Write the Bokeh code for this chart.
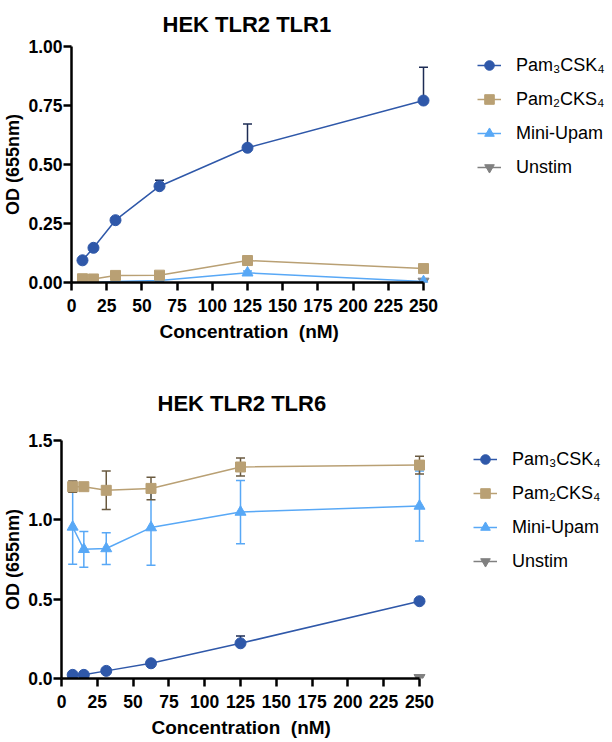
from bokeh.plotting import figure
from bokeh.models import (ColumnDataSource, Whisker, TeeHead, Legend, LegendItem,
                          FixedTicker, NumeralTickFormatter, Range1d, Title)
from bokeh.embed import file_html
from bokeh.resources import INLINE

# ---------------- data ----------------
conc = [7.8, 15.6, 31.25, 62.5, 125, 250]
unstim_conc = [250]
x_ticks = [0, 25, 50, 75, 100, 125, 150, 175, 200, 225, 250]
x_label = "Concentration\u00a0 (nM)"
y_label = "OD (655nm)"

series_names = ["Pam\u2083CSK\u2084", "Pam\u2082CKS\u2084", "Mini-Upam", "Unstim"]

# HEK TLR2 TLR1
tlr1_pam3 = [0.094, 0.147, 0.264, 0.408, 0.571, 0.771]
tlr1_pam3_err = [0.008, 0.008, 0.010, 0.025, 0.101, 0.141]
tlr1_pam2 = [0.016, 0.015, 0.030, 0.031, 0.093, 0.059]
tlr1_pam2_err = [0.004, 0.004, 0.005, 0.005, 0.018, 0.006]
tlr1_mini = [0.000, 0.000, 0.004, 0.008, 0.041, 0.004]
tlr1_mini_err = [0.002, 0.002, 0.002, 0.003, 0.008, 0.002]
tlr1_unstim = [0.005]
tlr1_y_ticks = [0, 0.25, 0.5, 0.75, 1.0]

# HEK TLR2 TLR6
tlr6_pam3 = [0.023, 0.023, 0.048, 0.096, 0.222, 0.487]
tlr6_pam3_err = [0.004, 0.004, 0.005, 0.006, 0.046, 0.006]
tlr6_pam2 = [1.209, 1.209, 1.186, 1.198, 1.333, 1.345]
tlr6_pam2_err = [0.035, 0.010, 0.121, 0.071, 0.056, 0.056]
tlr6_mini = [0.955, 0.814, 0.819, 0.951, 1.049, 1.087]
tlr6_mini_err = [0.235, 0.113, 0.100, 0.238, 0.199, 0.220]
tlr6_unstim = [0.005]
tlr6_y_ticks = [0, 0.5, 1.0, 1.5]

# ---------------- style ----------------
FONT = "Liberation Sans"
C_PAM3 = "#2f58a9"
C_PAM3_ERR = "#1d2c55"
C_PAM2 = "#b9a074"
C_PAM2_ERR = "#6a5a40"
C_MINI = "#58a8f6"
C_UNSTIM = "#808080"
FIG_W = 604


def whisker(p, x, y, err, color, one_sided=False):
    lower = list(y) if one_sided else [v - e for v, e in zip(y, err)]
    upper = [v + e for v, e in zip(y, err)]
    src = ColumnDataSource(dict(x=x, lower=lower, upper=upper))
    w = Whisker(source=src, base="x", lower="lower", upper="upper",
                line_color=color, line_width=1.5, level="underlay",
                upper_head=TeeHead(size=9, line_color=color, line_width=1.5),
                lower_head=None if one_sided else TeeHead(size=9, line_color=color, line_width=1.5))
    p.add_layout(w)


def panel(title, ymax, yticks, yfmt, pam3, pam3_err, pam2, pam2_err, mini, mini_err, unstim,
          left, top, bottom, px250, fh, leg_x, title_standoff, title_offset, xlab_offset,
          xlab_standoff):
    fw = FIG_W - left
    x_end = 250.0 * fw / px250
    p = figure(frame_width=fw, frame_height=fh, x_range=Range1d(0, x_end), y_range=Range1d(0, ymax),
               output_backend="svg", toolbar_location=None,
               min_border_left=left, min_border_top=top,
               min_border_right=0, min_border_bottom=bottom)
    p.title = Title(text=title, text_font=FONT, text_font_size="22px", text_font_style="bold",
                    align="left", offset=title_offset, text_color="black",
                    standoff=title_standoff)
    p.outline_line_color = None
    p.grid.visible = False
    p.background_fill_color = "white"

    whisker(p, conc, mini, mini_err, C_MINI)
    whisker(p, conc, pam2, pam2_err, C_PAM2_ERR)
    whisker(p, conc, pam3, pam3_err, C_PAM3_ERR, one_sided=True)

    lu = p.line(unstim_conc, unstim, line_color=C_UNSTIM, line_width=1.5)
    su = p.scatter(unstim_conc, unstim, marker="inverted_triangle", size=11,
                   fill_color=C_UNSTIM, line_color=C_UNSTIM)
    lm = p.line(conc, mini, line_color=C_MINI, line_width=1.5)
    sm = p.scatter(conc, mini, marker="triangle", size=11, fill_color=C_MINI, line_color=C_MINI)
    l2 = p.line(conc, pam2, line_color=C_PAM2, line_width=1.5)
    s2 = p.scatter(conc, pam2, marker="square", size=10, fill_color=C_PAM2, line_color=C_PAM2)
    l3 = p.line(conc, pam3, line_color=C_PAM3, line_width=1.5)
    s3 = p.scatter(conc, pam3, marker="circle", size=11, fill_color=C_PAM3, line_color=C_PAM3)

    items = [LegendItem(label=series_names[0], renderers=[l3, s3]),
             LegendItem(label=series_names[1], renderers=[l2, s2]),
             LegendItem(label=series_names[2], renderers=[lm, sm]),
             LegendItem(label=series_names[3], renderers=[lu, su])]
    leg_h = 4 * 24 + 3 * 10
    leg = Legend(items=items, location=(leg_x, fh - 7 - leg_h), orientation="vertical",
                 glyph_width=24, glyph_height=24, label_height=24, spacing=10,
                 label_standoff=15, padding=0, margin=0,
                 border_line_color=None, background_fill_alpha=0,
                 label_text_font=FONT, label_text_font_size="18px", label_text_color="black")
    p.add_layout(leg)

    for ax in (p.xaxis[0], p.yaxis[0]):
        ax.axis_line_width = 2.5
        ax.axis_line_color = "black"
        ax.major_tick_line_width = 2.5
        ax.major_tick_line_color = "black"
        ax.major_tick_out = 8
        ax.major_tick_in = 0
        ax.minor_tick_line_color = None
        ax.major_label_text_font = FONT
        ax.major_label_text_font_style = "bold"
        ax.major_label_text_font_size = "17.5px"
        ax.major_label_text_color = "black"
        ax.axis_label_text_font = FONT
        ax.axis_label_text_font_style = "bold"
        ax.axis_label_text_font_size = "18px"
        ax.axis_label_text_color = "black"

    p.xaxis.ticker = FixedTicker(ticks=x_ticks)
    p.xaxis.bounds = (0, 250)
    p.xaxis.major_label_standoff = 8
    p.add_layout(Title(text=x_label, text_font=FONT, text_font_size="19px",
                       text_font_style="bold", align="left", offset=xlab_offset,
                       text_color="black", standoff=xlab_standoff), "below")

    p.yaxis.ticker = FixedTicker(ticks=yticks)
    p.yaxis.formatter = NumeralTickFormatter(format=yfmt)
    p.yaxis.bounds = (0, ymax)
    p.yaxis.axis_label = y_label
    p.yaxis.major_label_standoff = 1
    p.yaxis.axis_label_standoff = 2
    return p


p1 = panel("HEK TLR2 TLR1", 1.0, tlr1_y_ticks, "0.00",
           tlr1_pam3, tlr1_pam3_err, tlr1_pam2, tlr1_pam2_err, tlr1_mini, tlr1_mini_err, tlr1_unstim,
           left=65, top=42, bottom=80, px250=352, fh=236, leg_x=406, title_standoff=19,
           title_offset=91, xlab_offset=88, xlab_standoff=9)
p2 = panel("HEK TLR2 TLR6", 1.5, tlr6_y_ticks, "0.0",
           tlr6_pam3, tlr6_pam3_err, tlr6_pam2, tlr6_pam2_err, tlr6_mini, tlr6_mini_err, tlr6_unstim,
           left=57, top=78, bottom=60, px250=358, fh=238, leg_x=412, title_standoff=49,
           title_offset=96, xlab_offset=90, xlab_standoff=8)

open("out.html", "w").write(file_html([p1, p2], INLINE))
